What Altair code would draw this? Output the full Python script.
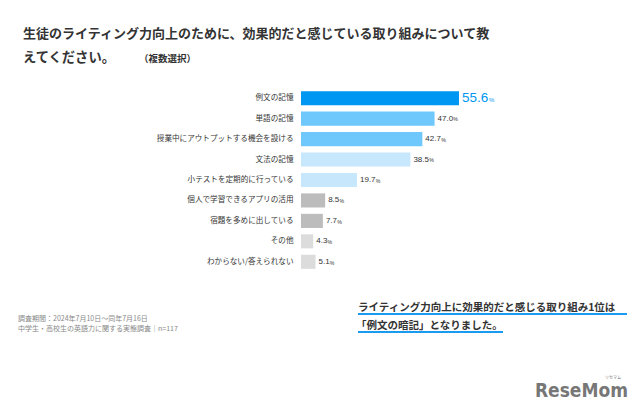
import altair as alt
import pandas as pd

categories = ["例文の記憶", "単語の記憶", "授業中にアウトプットする機会を設ける", "文法の記憶",
              "小テストを定期的に行っている", "個人で学習できるアプリの活用", "宿題を多めに出している",
              "その他", "わからない/答えられない"]
values = [55.6, 47.0, 42.7, 38.5, 19.7, 8.5, 7.7, 4.3, 5.1]
bar_colors = ["#0097f2", "#6ec8fb", "#6ec8fb", "#c6e7fc", "#c6e7fc",
              "#bcbcbc", "#bcbcbc", "#dcdcdc", "#dcdcdc"]

title_line1 = "生徒のライティング力向上のために、効果的だと感じている取り組みについて教"
title_line2 = "えてください。"
title_note = "（複数選択）"
footer_lines = ["調査期間：2024年7月10日〜同年7月16日", "中学生・高校生の英語力に関する実態調査｜n=117"]
callout_lines = ["ライティング力向上に効果的だと感じる取り組み1位は", "「例文の暗記」となりました。"]
logo = "ReseMom"
logo_kana = "リセマム"

JP = "Noto Sans CJK JP"
df = pd.DataFrame({"cat": categories, "val": values, "color": bar_colors,
                   "num": [f"{v:.1f}" for v in values]})
df["rank"] = range(len(df))

W, H = 300, 184
XMAX = W / (158 / 55.6)

x = alt.X("val:Q", scale=alt.Scale(domain=[0, XMAX], nice=False), axis=None)
y = alt.Y("cat:N", sort=categories, scale=alt.Scale(paddingInner=0.31, paddingOuter=0.155),
          axis=alt.Axis(title=None, domain=False, ticks=False, labelFontSize=7.6,
                        labelColor="#333333", labelFont=JP, labelPadding=8))

bars = alt.Chart(df).mark_bar().encode(x=x, y=y, color=alt.Color("color:N", scale=None))

rest = df[df["rank"] > 0]
two_digit = rest[rest["val"] >= 10]
one_digit = rest[rest["val"] < 10]
top = df[df["rank"] == 0]
NUMFONT = "Liberation Sans"
num_rest = alt.Chart(rest).mark_text(align="left", baseline="middle", dx=3, fontSize=8,
                                     color="#333333", font=NUMFONT).encode(x=x, y=y, text="num:N")
pct_two = alt.Chart(two_digit).mark_text(align="left", baseline="middle", dx=18.8, dy=0.8, fontSize=5.2,
                                         color="#333333", font=NUMFONT).encode(x=x, y=y, text=alt.value("%"))
pct_one = alt.Chart(one_digit).mark_text(align="left", baseline="middle", dx=14.3, dy=0.8, fontSize=5.2,
                                         color="#333333", font=NUMFONT).encode(x=x, y=y, text=alt.value("%"))
num_top = alt.Chart(top).mark_text(align="left", baseline="middle", dx=3, fontSize=13.5,
                                   color="#0097f2", font=NUMFONT).encode(x=x, y=y, text="num:N")
pct_top = alt.Chart(top).mark_text(align="left", baseline="middle", dx=30, dy=1.5, fontSize=6,
                                   color="#0097f2", font=NUMFONT).encode(x=x, y=y, text=alt.value("%"))

OX, OY = 301, 88  # plot origin on page


def txt(s, px, py, size, color="#333333", weight="normal", font=JP, align="left"):
    return alt.Chart(pd.DataFrame({"t": [s]})).mark_text(
        align=align, baseline="middle", fontSize=size, color=color, fontWeight=weight, font=font
    ).encode(text="t:N", x=alt.value(px - OX), y=alt.value(py - OY))


def rule(x1, x2, py, color, size):
    return alt.Chart(pd.DataFrame({"a": [0]})).mark_rule(color=color, strokeWidth=size).encode(
        x=alt.value(x1 - OX), x2=alt.value(x2 - OX), y=alt.value(py - OY))


annotations = [
    txt(title_line1, 23, 34, 13, weight="bold"),
    txt(title_line2, 23, 58, 13.3, weight="bold"),
    txt(title_note, 139, 59, 9.5, color="#333333", weight="bold"),
    txt(footer_lines[0], 18, 319, 7, color="#888888"),
    txt(footer_lines[1], 18, 329, 7, color="#888888"),
    rule(358, 627, 314, "#1a9af0", 2),
    rule(358, 503, 332, "#1a9af0", 2),
    txt(callout_lines[0], 358, 308, 10.5, weight="bold"),
    txt(callout_lines[1], 356, 326, 10.5, weight="bold"),
    txt(logo, 628, 391, 19, color="#777777", weight="bold",
        font="Liberation Sans Narrow, DejaVu Sans Condensed, sans-serif", align="right"),
    txt(logo_kana, 621, 378, 4, color="#777777", align="right"),
]

chart = alt.layer(bars, num_rest, pct_two, pct_one, num_top, pct_top, *annotations).properties(
    width=W, height=H,
    padding={"left": 293, "top": 80, "right": 31, "bottom": 141},
    autosize=alt.AutoSizeParams(type="none"),
    background="white",
).configure_view(stroke=None)

chart.save("out.html", embed_options={"renderer": "svg", "actions": False})
